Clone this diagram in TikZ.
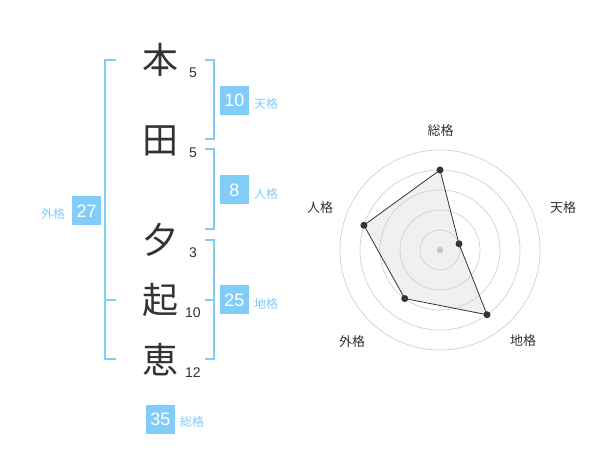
\documentclass[tikz,border=0pt]{standalone}
\usepackage{fontspec}
\setmainfont{Liberation Sans}
\newfontfamily\jp{Noto Sans CJK JP}
\definecolor{kblue}{HTML}{82CCF8}
\definecolor{ink}{HTML}{333333}
\begin{document}
\begin{tikzpicture}[x=1pt,y=-1pt,
  kanji/.style={font=\jp\fontsize{36}{36}\selectfont, text=ink, inner sep=0pt},
  strokes/.style={font=\fontsize{14}{14}\selectfont, text=ink, inner sep=0pt},
  valbox/.style={fill=kblue, text=white, minimum width=29pt, minimum height=29pt, inner sep=0pt, font=\fontsize{18}{18}\selectfont},
  kaku/.style={font=\jp\fontsize{12}{12}\selectfont, text=kblue, inner sep=0pt},
  brk/.style={draw=kblue, line width=2pt},
  axislbl/.style={font=\jp\fontsize{13}{13}\selectfont, text=ink, inner sep=0pt},
  ring/.style={draw=black!18, line width=0.7pt},
  dot/.style={circle, fill=ink, inner sep=0pt, minimum size=7pt}]
\useasboundingbox (0,0) rectangle (600,470);
\fill[white] (0,0) rectangle (600,470);

% name characters
\node[kanji] (c1) at (160,60) {本};
\node[kanji] (c2) at (160,141) {田};
\node[kanji] (c3) at (160,240) {夕};
\node[kanji] (c4) at (160,300) {起};
\node[kanji] (c5) at (160,360) {恵};

\node[strokes] (s1) at (193,72.5) {5};
\node[strokes] (s2) at (193,152.5) {5};
\node[strokes] (s3) at (193,252.5) {3};
\node[strokes] (s4) at (193,312.5) {10};
\node[strokes] (s5) at (193,372.5) {12};

% brackets
\draw[brk] (116,60) -- (105,60) -- (105,359) -- (116,359);
\draw[brk] (105,300) -- (116,300);
\draw[brk] (205,60) -- (214,60) -- (214,139) -- (205,139);
\draw[brk] (205,149) -- (214,149) -- (214,229) -- (205,229);
\draw[brk] (205,240) -- (214,240) -- (214,359) -- (205,359);
\draw[brk] (205,300) -- (214,300);

% value boxes
\node[valbox] (ten) at (234.5,100.5) {10};
\node[kaku] (tenl) at (266,104) {天格};
\node[valbox] (jin) at (234.5,190) {8};
\node[kaku] (jinl) at (266,194) {人格};
\node[valbox] (gai) at (86.7,211) {27};
\node[kaku] (gail) at (53,214) {外格};
\node[valbox] (chi) at (234.5,300) {25};
\node[kaku] (chil) at (266,304) {地格};
\node[valbox] (sou) at (160.5,419) {35};
\node[kaku] (soul) at (192,422) {総格};

% radar chart
\begin{scope}[shift={(440,250)}, y=1pt]
  \coordinate (O) at (0,0);
  \coordinate (pS) at (90:80);
  \coordinate (pT) at (18:20);
  \coordinate (pC) at (-54:80);
  \coordinate (pG) at (-126:60);
  \coordinate (pJ) at (162:80);
  \fill[black!8, fill opacity=0.7] (pS) -- (pT) -- (pC) -- (pG) -- (pJ) -- cycle;
  \foreach \r in {20,40,60,80,100} \draw[ring] (O) circle (\r);
  \draw[ink, line width=0.8pt] (pS) -- (pT) -- (pC) -- (pG) -- (pJ) -- cycle;
  \fill[black!22] (O) circle (3.2);
  \foreach \p in {pS,pT,pC,pG,pJ} \node[dot] at (\p) {};
\end{scope}
\node[axislbl] (aS) at (440.7,130.7) {総格};
\node[axislbl] (aT) at (563,208) {天格};
\node[axislbl] (aC) at (523,341) {地格};
\node[axislbl] (aG) at (352,342) {外格};
\node[axislbl] (aJ) at (320,208) {人格};
\end{tikzpicture}
\end{document}
